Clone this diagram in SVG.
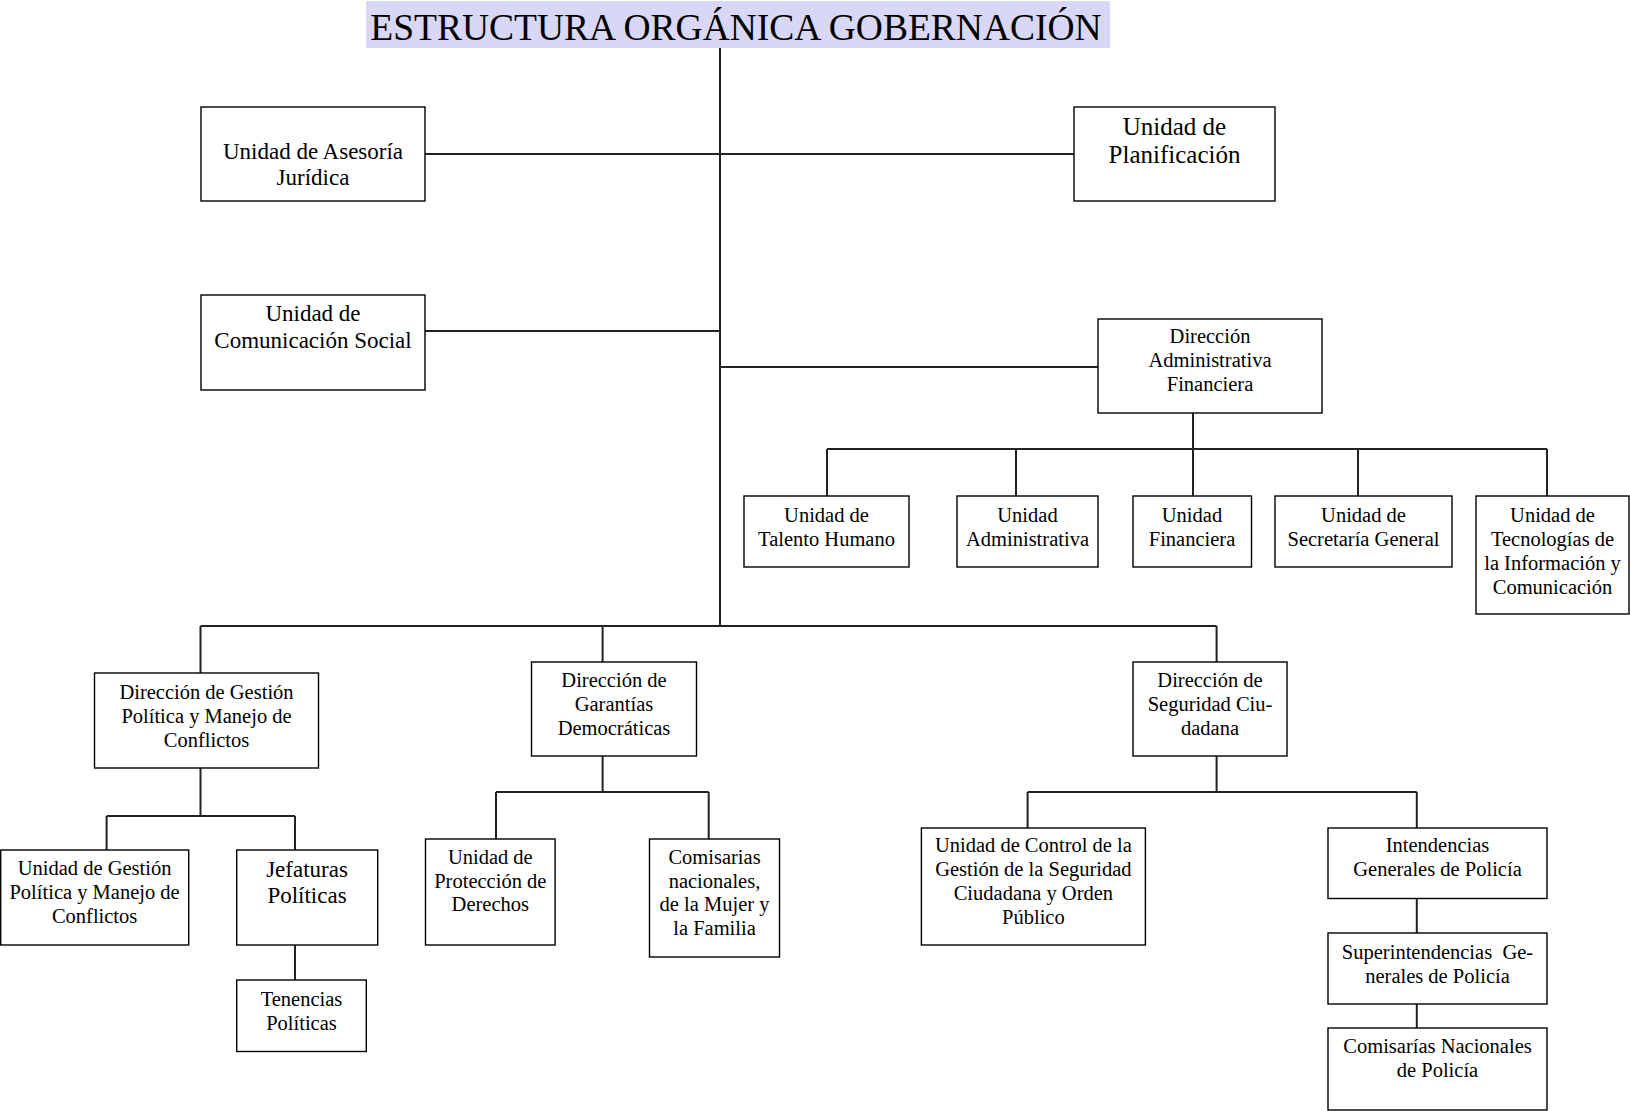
<svg xmlns="http://www.w3.org/2000/svg" width="1630" height="1111" viewBox="0 0 1630 1111">
<style>
.box{fill:#fff;stroke:#000;stroke-width:1.4}
.c{fill:none;stroke:#222;stroke-width:2}
text{font-family:"Liberation Serif","Times New Roman",serif;fill:#000;text-anchor:middle}
.s{font-size:20.5px}
.m{font-size:23px}
.l{font-size:25px}
.pre{white-space:pre}
</style>
<rect x="0" y="0" width="1630" height="1111" fill="#fff"/>
<g id="title">
<rect x="366" y="1" width="744" height="47" fill="#d8d8f6"/>
<text x="736" y="40" style="font-size:37.5px">ESTRUCTURA ORGÁNICA GOBERNACIÓN</text>
</g>
<g id="connectors">
<path class="c" d="M720 48V626"/>
<path class="c" d="M425 154H1074"/>
<path class="c" d="M425 331H720"/>
<path class="c" d="M720 367H1098"/>
<path class="c" d="M1193 413V449M827 449H1547M827 449V496M1016 449V496M1193 449V496M1358 449V496M1547 449V496"/>
<path class="c" d="M200.5 626H1216.6M200.5 626V673M602.6 626V662M1216.6 626V662"/>
<path class="c" d="M200.5 768V816M106.6 816H295M106.6 816V850M295 816V850M295 945V980"/>
<path class="c" d="M602.6 756V792M496 792H708.7M496 792V839M708.7 792V839"/>
<path class="c" d="M1216.6 756V792M1027.6 792H1416.8M1027.6 792V828M1416.8 792V828M1416.8 898V933M1416.8 1004V1028"/>
</g>
<g id="asesoria">
<rect class="box" x="201" y="107" width="224" height="94"/>
<text class="m"><tspan x="313" y="159">Unidad de Asesoría</tspan><tspan x="313" y="185">Jurídica</tspan></text>
</g>
<g id="planificacion">
<rect class="box" x="1074" y="107" width="201" height="94"/>
<text class="l"><tspan x="1174.5" y="135">Unidad de</tspan><tspan x="1174.5" y="163">Planificación</tspan></text>
</g>
<g id="comunicacion">
<rect class="box" x="201" y="295" width="224" height="95"/>
<text class="m"><tspan x="313" y="321">Unidad de</tspan><tspan x="313" y="348">Comunicación Social</tspan></text>
</g>
<g id="daf">
<rect class="box" x="1098" y="319" width="224" height="94"/>
<text class="s"><tspan x="1210" y="343">Dirección</tspan><tspan x="1210" y="367">Administrativa</tspan><tspan x="1210" y="391">Financiera</tspan></text>
</g>
<g id="talento">
<rect class="box" x="744" y="496" width="165" height="71"/>
<text class="s"><tspan x="826.5" y="522">Unidad de</tspan><tspan x="826.5" y="546">Talento Humano</tspan></text>
</g>
<g id="uadmin">
<rect class="box" x="957" y="496" width="141" height="71"/>
<text class="s"><tspan x="1027.5" y="522">Unidad</tspan><tspan x="1027.5" y="546">Administrativa</tspan></text>
</g>
<g id="ufin">
<rect class="box" x="1133" y="496" width="118.5" height="71"/>
<text class="s"><tspan x="1192" y="522">Unidad</tspan><tspan x="1192" y="546">Financiera</tspan></text>
</g>
<g id="secretaria">
<rect class="box" x="1275" y="496" width="177" height="71"/>
<text class="s"><tspan x="1363.5" y="522">Unidad de</tspan><tspan x="1363.5" y="546">Secretaría General</tspan></text>
</g>
<g id="tecnologias">
<rect class="box" x="1476" y="496" width="153" height="118"/>
<text class="s"><tspan x="1552.5" y="522">Unidad de</tspan><tspan x="1552.5" y="546">Tecnologías de</tspan><tspan x="1552.5" y="569.5">la Información y</tspan><tspan x="1552.5" y="593.5">Comunicación</tspan></text>
</g>
<g id="gestion">
<rect class="box" x="94.5" y="673" width="224" height="95"/>
<text class="s"><tspan x="206.5" y="699">Dirección de Gestión</tspan><tspan x="206.5" y="723">Política y Manejo de</tspan><tspan x="206.5" y="747">Conflictos</tspan></text>
</g>
<g id="garantias">
<rect class="box" x="531.5" y="662" width="165" height="94"/>
<text class="s"><tspan x="614" y="687">Dirección de</tspan><tspan x="614" y="711">Garantías</tspan><tspan x="614" y="734.5">Democráticas</tspan></text>
</g>
<g id="seguridad">
<rect class="box" x="1133" y="662" width="154" height="94"/>
<text class="s"><tspan x="1210" y="687">Dirección de</tspan><tspan x="1210" y="711">Seguridad Ciu-</tspan><tspan x="1210" y="734.5">dadana</tspan></text>
</g>
<g id="ugestion">
<rect class="box" x="0.7" y="850" width="188" height="95"/>
<text class="s"><tspan x="94.6" y="875">Unidad de Gestión</tspan><tspan x="94.6" y="899">Política y Manejo de</tspan><tspan x="94.6" y="923">Conflictos</tspan></text>
</g>
<g id="jefaturas">
<rect class="box" x="236.7" y="850" width="141" height="95"/>
<text class="m"><tspan x="307" y="877">Jefaturas</tspan><tspan x="307" y="903">Políticas</tspan></text>
</g>
<g id="tenencias">
<rect class="box" x="236.7" y="980" width="129.6" height="71.5"/>
<text class="s"><tspan x="301.5" y="1006">Tenencias</tspan><tspan x="301.5" y="1029.5">Políticas</tspan></text>
</g>
<g id="proteccion">
<rect class="box" x="425.5" y="839" width="129.6" height="106"/>
<text class="s"><tspan x="490.3" y="863.5">Unidad de</tspan><tspan x="490.3" y="887.5">Protección de</tspan><tspan x="490.3" y="911">Derechos</tspan></text>
</g>
<g id="comisarias">
<rect class="box" x="649.5" y="839" width="130" height="118"/>
<text class="s"><tspan x="714.5" y="863.5">Comisarias</tspan><tspan x="714.5" y="887.5">nacionales,</tspan><tspan x="714.5" y="911">de la Mujer y</tspan><tspan x="714.5" y="935">la Familia</tspan></text>
</g>
<g id="control">
<rect class="box" x="921.4" y="828" width="224" height="117"/>
<text class="s"><tspan x="1033.4" y="852">Unidad de Control de la</tspan><tspan x="1033.4" y="876">Gestión de la Seguridad</tspan><tspan x="1033.4" y="899.5">Ciudadana y Orden</tspan><tspan x="1033.4" y="923.5">Público</tspan></text>
</g>
<g id="intendencias">
<rect class="box" x="1328" y="828" width="219" height="70.5"/>
<text class="s"><tspan x="1437.5" y="852">Intendencias</tspan><tspan x="1437.5" y="876">Generales de Policía</tspan></text>
</g>
<g id="superintendencias">
<rect class="box" x="1328" y="933" width="219" height="71"/>
<text class="s pre"><tspan x="1437.5" y="958.5">Superintendencias  Ge-</tspan><tspan x="1437.5" y="982.5">nerales de Policía</tspan></text>
</g>
<g id="comisariasnac">
<rect class="box" x="1328" y="1028" width="219" height="82"/>
<text class="s"><tspan x="1437.5" y="1053">Comisarías Nacionales</tspan><tspan x="1437.5" y="1077">de Policía</tspan></text>
</g>
</svg>
